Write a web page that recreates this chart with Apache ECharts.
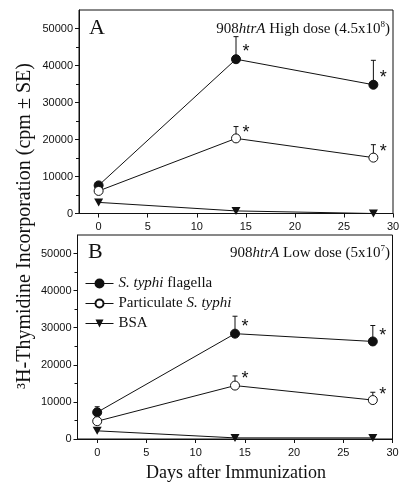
<!DOCTYPE html>
<html>
<head>
<meta charset="utf-8">
<script src="https://cdn.jsdelivr.net/npm/echarts@6/dist/echarts.min.js"></script>
<style>
html,body{margin:0;padding:0;background:#fff;}
#c{width:408px;height:488px;}
</style>
</head>
<body>
<div id="c"></div>
<script>
// ---- data ----
const days = [0, 14, 28];
const xTicks = [0, 5, 10, 15, 20, 25, 30];
const yTicks = [0, 10000, 20000, 30000, 40000, 50000];
const yMinorTicks = [5000, 15000, 25000, 35000, 45000];
const seriesNames = ['S. typhi flagella', 'Particulate S. typhi', 'BSA'];

// Panel A: 908htrA High dose
const aFlagella = [7600, 41700, 34800];
const aFlagellaErr = [null, 47800, 41400];
const aParticulate = [6100, 20300, 15100];
const aParticulateErr = [null, 23500, 18600];
const aBSA = [3000, 700, 0];
const aBSAErr = [null, null, null];
const aFlagellaStar = [null, 44900, 38000];
const aParticulateStar = [null, 23200, 18000];

// Panel B: 908htrA Low dose
const bFlagella = [7200, 28400, 26300];
const bFlagellaErr = [8700, 33100, 30600];
const bParticulate = [4800, 14400, 10500];
const bParticulateErr = [null, 17000, 12600];
const bBSA = [2200, 300, 300];
const bBSAErr = [null, null, 1200];
const bFlagellaStar = [null, 31500, 29100];
const bParticulateStar = [null, 17400, 13200];

// ---- styles ----
const INK = '#111';
const SANS = '"Liberation Sans", Arial, sans-serif';
const SERIF = '"Liberation Serif", "Times New Roman", serif';
const triDown = 'path://M0,0 L10,0 L5,8.5 Z';

const symbolDefs = [
  { symbol: 'circle', size: 9, itemStyle: { color: INK, borderColor: INK, borderWidth: 1 } },
  { symbol: 'circle', size: 9, itemStyle: { color: '#fff', borderColor: INK, borderWidth: 1 } },
  { symbol: triDown, size: [9, 8], itemStyle: { color: INK, borderColor: INK, borderWidth: 0 } }
];

function pts(vals) { return days.map((d, i) => [d, vals[i]]); }
function errPts(vals, errs) {
  const out = [];
  days.forEach((d, i) => { if (errs[i] != null) out.push([d, vals[i], errs[i]]); });
  return out;
}
function starPts(stars) {
  const out = [];
  days.forEach((d, i) => { if (stars[i] != null) out.push([d, stars[i]]); });
  return out;
}

function errRender(params, api) {
  const x = api.value(0), y = api.value(1), t = api.value(2);
  const p0 = api.coord([x, y]);
  const p1 = api.coord([x, t]);
  return {
    type: 'group',
    children: [
      { type: 'line', shape: { x1: p0[0], y1: p0[1], x2: p1[0], y2: p1[1] }, style: { stroke: INK, lineWidth: 1 } },
      { type: 'line', shape: { x1: p1[0] - 2.5, y1: p1[1], x2: p1[0] + 2.5, y2: p1[1] }, style: { stroke: INK, lineWidth: 1 } }
    ]
  };
}
function starRender(params, api) {
  const p = api.coord([api.value(0), api.value(1)]);
  return {
    type: 'text', x: p[0] + 10, y: p[1] + 5,
    style: { text: '*', fill: INK, font: '18px ' + SANS, align: 'center', verticalAlign: 'middle' }
  };
}

function panelSeries(gi, flag, flagErr, part, partErr, bsa, bsaErr, flagStar, partStar) {
  const xi = gi, yi = gi * 2;
  const vals = [flag, part, bsa];
  const errs = [flagErr, partErr, bsaErr];
  const out = [];
  vals.forEach((v, k) => {
    const e = errPts(v, errs[k]);
    if (e.length) {
      out.push({
        type: 'custom', xAxisIndex: xi, yAxisIndex: yi, z: 1, silent: true,
        renderItem: errRender, encode: { x: 0, y: [1, 2] }, data: e
      });
    }
  });
  vals.forEach((v, k) => {
    out.push({
      type: 'line', name: seriesNames[k], xAxisIndex: xi, yAxisIndex: yi, z: 3,
      data: pts(v), symbol: symbolDefs[k].symbol, symbolSize: symbolDefs[k].size,
      itemStyle: symbolDefs[k].itemStyle,
      lineStyle: { color: INK, width: 1 }, showSymbol: true
    });
  });
  [flagStar, partStar].forEach(s => {
    out.push({
      type: 'custom', xAxisIndex: xi, yAxisIndex: yi, z: 4, silent: true,
      renderItem: starRender, encode: { x: 0, y: 1 }, data: starPts(s)
    });
  });
  return out;
}

function xAxisDef(gi) {
  return {
    type: 'value', gridIndex: gi, min: -2, max: 30,
    axisLine: { show: true, onZero: false, lineStyle: { color: INK, width: 1 } },
    axisTick: { show: true, customValues: xTicks, length: 4, inside: false, lineStyle: { color: INK } },
    axisLabel: { customValues: xTicks, color: INK, fontFamily: SANS, fontSize: 11, margin: 8, formatter: v => String(v) },
    splitLine: { show: false }
  };
}
function yAxisDef(gi) {
  return {
    type: 'value', gridIndex: gi, min: 0, max: 55000, position: 'left',
    axisLine: { show: true, onZero: false, lineStyle: { color: INK, width: 1 } },
    axisTick: { show: true, customValues: yTicks, length: 4, lineStyle: { color: INK } },
    axisLabel: { customValues: yTicks, color: INK, fontFamily: SANS, fontSize: 11, margin: 6, formatter: v => String(v) },
    splitLine: { show: false }
  };
}
function yMinorDef(gi) {
  return {
    type: 'value', gridIndex: gi, min: 0, max: 55000, position: 'left', offset: 0,
    axisLine: { show: false, onZero: false },
    axisTick: { show: true, customValues: yMinorTicks, length: 3, lineStyle: { color: INK } },
    axisLabel: { show: false },
    splitLine: { show: false }
  };
}

const legendText = {
  'S. typhi flagella': '{i|S. typhi} flagella',
  'Particulate S. typhi': 'Particulate {i|S. typhi}',
  'BSA': 'BSA'
};

const option = {
  animation: false,
  backgroundColor: '#fff',
  grid: [
    { left: 79, top: 10, width: 314, height: 203.5, show: true, borderColor: INK, borderWidth: 1, backgroundColor: 'transparent' },
    { left: 77.5, top: 235, width: 315, height: 204, show: true, borderColor: INK, borderWidth: 1, backgroundColor: 'transparent' }
  ],
  xAxis: [xAxisDef(0), xAxisDef(1)],
  yAxis: [yAxisDef(0), yMinorDef(0), yAxisDef(1), yMinorDef(1)],
  legend: {
    data: seriesNames,
    orient: 'vertical', left: 80, top: 271,
    itemWidth: 28, itemHeight: 10, itemGap: 5,
    selectedMode: false,
    lineStyle: { width: 1, color: INK },
    formatter: n => legendText[n],
    textStyle: {
      color: INK, fontFamily: SERIF, fontSize: 15, lineHeight: 15,
      rich: { i: { fontStyle: 'italic', fontFamily: SERIF, fontSize: 15, color: INK, lineHeight: 15 } }
    }
  },
  graphic: [
    { type: 'text', x: 89, y: 28, style: { text: 'A', font: '22px ' + SERIF, fill: INK, verticalAlign: 'middle' } },
    { type: 'text', x: 88, y: 252, style: { text: 'B', font: '22px ' + SERIF, fill: INK, verticalAlign: 'middle' } },
    {
      type: 'text', x: 390, y: 29,
      style: {
        text: '{a|908}{i|htrA}{a| High dose (4.5x10}{s|8}{a|)}',
        align: 'right', verticalAlign: 'middle',
        rich: {
          a: { font: '15px ' + SERIF, fill: INK, lineHeight: 17 },
          i: { font: 'italic 15px ' + SERIF, fill: INK, lineHeight: 17 },
          s: { font: '9px ' + SERIF, fill: INK, verticalAlign: 'top', lineHeight: 17 }
        }
      }
    },
    {
      type: 'text', x: 390, y: 253,
      style: {
        text: '{a|908}{i|htrA}{a| Low dose (5x10}{s|7}{a|)}',
        align: 'right', verticalAlign: 'middle',
        rich: {
          a: { font: '15px ' + SERIF, fill: INK, lineHeight: 17 },
          i: { font: 'italic 15px ' + SERIF, fill: INK, lineHeight: 17 },
          s: { font: '9px ' + SERIF, fill: INK, verticalAlign: 'top', lineHeight: 17 }
        }
      }
    },
    {
      type: 'text', x: 25, y: 226, rotation: Math.PI / 2,
      style: { text: '³H-Thymidine Incorporation (cpm ± SE)', font: '20px ' + SERIF, fill: INK, align: 'center', verticalAlign: 'middle' }
    },
    {
      type: 'text', x: 236, y: 473,
      style: { text: 'Days after Immunization', font: '18px ' + SERIF, fill: INK, align: 'center', verticalAlign: 'middle' }
    }
  ],
  series: [].concat(
    panelSeries(0, aFlagella, aFlagellaErr, aParticulate, aParticulateErr, aBSA, aBSAErr, aFlagellaStar, aParticulateStar),
    panelSeries(1, bFlagella, bFlagellaErr, bParticulate, bParticulateErr, bBSA, bBSAErr, bFlagellaStar, bParticulateStar)
  )
};

const chart = echarts.init(document.getElementById('c'), null, { renderer: 'canvas' });
chart.setOption(option);
</script>
</body>
</html>
